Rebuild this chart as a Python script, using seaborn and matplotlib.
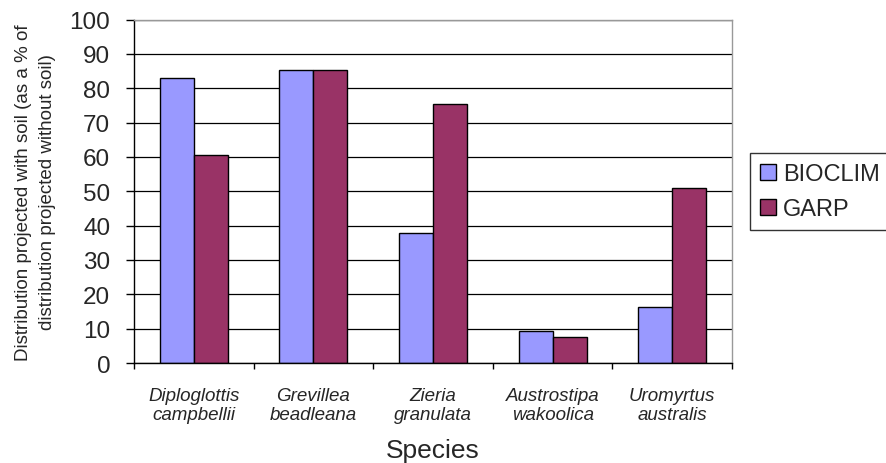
import pandas as pd
import matplotlib
matplotlib.use('Agg')
import matplotlib.pyplot as plt
import seaborn as sns
import numpy as np

# data
# -----------------------------------------------------------------------------
species = ['Diploglottis\ncampbellii',
           'Grevillea\nbeadleana',
           'Zieria\ngranulata',
           'Austrostipa\nwakoolica',
           'Uromyrtus\naustralis',
           ]
bioclim = [83.1, 85.3, 37.8, 9.4, 16.2]
garp = [60.5, 85.3, 75.4, 7.7, 51.0]
y_ticks = list(range(0, 101, 10))
# -----------------------------------------------------------------------------

sns.set_style('white')
plt.rcParams['font.family'] = ['Liberation Sans', 'DejaVu Sans']

df = pd.DataFrame({'Species': species * 2,
                   'Value': bioclim + garp,
                   'Model': ['BIOCLIM'] * len(species) + ['GARP'] * len(species),
                   })

fig = plt.figure(figsize=(8.86, 4.64), dpi=100)
ax = fig.add_axes([0.1512, 0.2155, 0.8262 - 0.1512, 0.9558 - 0.2155])

sns.barplot(data=df,
            x='Species',
            y='Value',
            hue='Model',
            palette=['#9999FF', '#993366'],
            width=0.57,
            edgecolor='black',
            linewidth=1.0,
            saturation=1,
            ax=ax,
            )

ax.set_xlim(-0.5, len(species) - 0.5)
ax.set_ylim(0, 100)
ax.set_yticks(y_ticks)
ax.yaxis.grid(True, color='black', linewidth=0.9)
ax.set_axisbelow(True)

# spines like the Excel plot area
ax.spines['left'].set_color('black')
ax.spines['bottom'].set_color('black')
ax.spines['top'].set_color('#999999')
ax.spines['right'].set_color('#999999')
for s in ax.spines.values():
    s.set_linewidth(1.0)

# y ticks outward, x ticks between categories
ax.tick_params(axis='y', direction='out', length=6, width=1,
               labelsize=17.5, pad=11, left=True, color='black')
ax.tick_params(axis='x', which='major', length=0, labelsize=13.5, pad=17)
ax.set_xticks(np.arange(-0.5, len(species), 1.0), minor=True)
ax.tick_params(axis='x', which='minor', direction='out', length=4,
               width=1, bottom=True, color='black')
for lbl in ax.get_xticklabels():
    lbl.set_fontstyle('italic')

ax.set_xlabel('Species', fontsize=19, labelpad=11)
ax.set_ylabel('Distribution projected with soil (as a % of\n'
              'distribution projected without soil)',
              fontsize=13.5, linespacing=1.5, labelpad=10)

leg = ax.legend(loc='upper left',
                bbox_to_anchor=(0.8465, 0.668),
                bbox_transform=fig.transFigure,
                borderaxespad=0,
                fontsize=17,
                frameon=True,
                fancybox=False,
                edgecolor='black',
                handlelength=0.68,
                handleheight=0.68,
                handletextpad=0.3,
                borderpad=0.42,
                labelspacing=0.55,
                title=None,
                )
leg.get_frame().set_linewidth(1.0)

plt.savefig('out.png', dpi=100)
